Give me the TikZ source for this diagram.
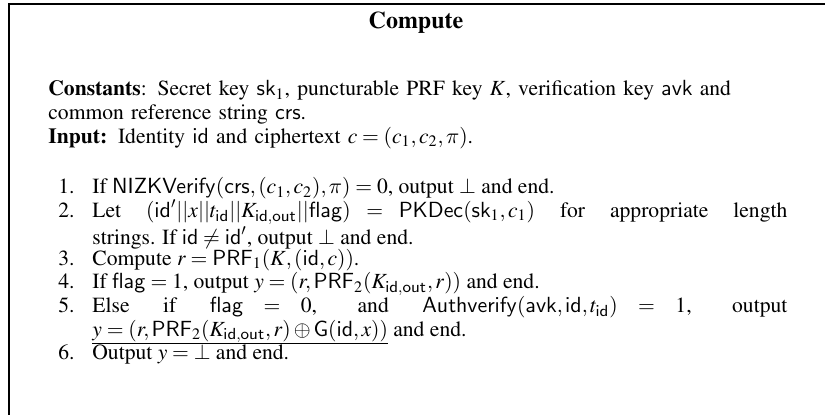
\documentclass[tikz,border=0pt]{standalone}
\usepackage[T1]{fontenc}
\usepackage{mathptmx}
\usepackage{helvet}
\usetikzlibrary{positioning}
\DeclareSymbolFont{cmletters}{OML}{cmm}{m}{it}
\DeclareMathSymbol{\pi}{\mathord}{cmletters}{"19}
\newcommand{\sfn}[1]{\mathsf{#1}}
\newcommand{\boxfont}{\fontsize{10.8pt}{11.85pt}\selectfont}
\newcommand{\ulmath}[1]{\underline{\vphantom{y}\smash{#1}}}
\tikzset{
  boxline/.style={line width=0.6pt, black},
  titletext/.style={font=\fontsize{12pt}{14pt}\selectfont\bfseries, inner sep=0pt, anchor=base},
  bodytext/.style={font=\boxfont, text width=369.5pt, inner sep=0pt, align=left, anchor=base west},
  steplabel/.style={font=\boxfont, inner sep=0pt, anchor=base east},
  steptext/.style={font=\boxfont, text width=347.5pt, inner sep=0pt, align=justify, anchor=base west}
}

\begin{document}
\begin{tikzpicture}[x=0.5pt, y=-0.5pt]
\useasboundingbox (0,0) rectangle (825,415);
% frame (cut at right and bottom)
\coordinate (frametr) at (825,4);
\coordinate (framebl) at (9,415);
\draw[boxline] (frametr) -| (framebl);
\node[titletext] (title) at (416,29) {Compute};
\node[bodytext] (consts) at (48,96)
  {\textbf{Constants}: Secret key $\sfn{sk}_1$, puncturable PRF key $K$, verification key $\sfn{avk}$ and\\
   common reference string $\sfn{crs}$.\\
   \textbf{Input:} Identity $\sfn{id}$ and ciphertext $c=(c_1,c_2,\pi)$.};
% steps
\node[steplabel] (lab1) at (75,194) {1.};
\node[steptext] (step1) at (92,194)
  {If $\sfn{NIZKVerify}(\sfn{crs},(c_1,c_2),\pi)=0$, output $\perp$ and end.};
\node[steplabel] (lab2) at (75,217.7) {2.};
\node[steptext] (step2) at (92,217.7)
  {Let $(\sfn{id}'||x||t_{\sfn{id}}||K_{\sfn{id},\sfn{out}}||\sfn{flag}) = \sfn{PKDec}(\sfn{sk}_1,c_1)$ for appropriate length\linebreak
   strings. If $\sfn{id}\neq\sfn{id}'$, output $\perp$ and end.};
\node[steplabel] (lab3) at (75,265.1) {3.};
\node[steptext] (step3) at (92,265.1)
  {Compute $r=\sfn{PRF}_1(K,(\sfn{id},c))$.};
\node[steplabel] (lab4) at (75,288.8) {4.};
\node[steptext] (step4) at (92,288.8)
  {If $\sfn{flag}=1$, output $y=(r,\sfn{PRF}_2(K_{\sfn{id},\sfn{out}},r))$ and end.};
\node[steplabel] (lab5) at (75,312.5) {5.};
\node[steptext] (step5) at (92,312.5)
  {Else if $\sfn{flag} = 0$, and $\sfn{Authverify}(\sfn{avk},\sfn{id},t_{\sfn{id}}) = 1$, output\linebreak
   $\ulmath{y=(r,\sfn{PRF}_2(K_{\sfn{id},\sfn{out}},r)\oplus\sfn{G}(\sfn{id},x))}$ and end.};
\node[steplabel] (lab6) at (75,359.9) {6.};
\node[steptext] (step6) at (92,359.9)
  {Output $y=\bot$ and end.};
\end{tikzpicture}
\end{document}
